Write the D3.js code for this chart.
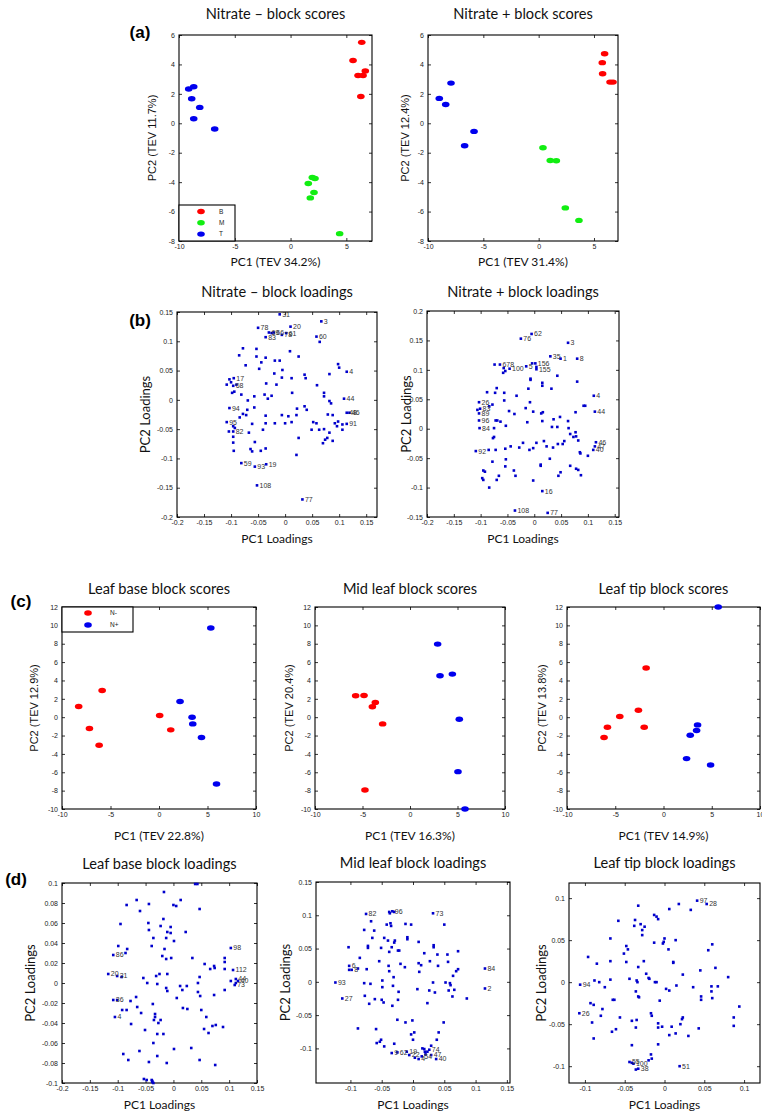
<!DOCTYPE html>
<html><head><meta charset="utf-8">
<script src="https://cdn.jsdelivr.net/npm/d3@7"></script>
<style>body{margin:0;background:#fff}svg{display:block}</style>
</head><body>
<script>
// ---------- DATA ----------
// (a) scores
const nitMinusB = [[6.38,5.5],[5.6,4.27],[6.05,3.25],[6.5,3.25],[6.7,3.55],[6.3,1.82]];
const nitMinusM = [[1.95,-3.68],[2.19,-3.75],[1.59,-4.09],[2.1,-4.7],[1.77,-5.07],[4.4,-7.5]];
const nitMinusT = [[-9.13,2.33],[-8.68,2.48],[-8.86,1.67],[-8.14,1.08],[-8.68,0.31],[-6.8,-0.39]];
const nitPlusB = [[5.96,4.73],[5.75,4.12],[5.78,3.37],[6.45,2.8],[6.72,2.8]];
const nitPlusM = [[0.39,-1.66],[1.05,-2.53],[1.6,-2.55],[2.41,-5.75],[3.64,-6.6]];
const nitPlusT = [[-7.92,2.73],[-8.98,1.69],[-8.4,1.28],[-5.84,-0.55],[-6.69,-1.53]];
const legendA = ["B","M","T"];
// (c) scores
const baseNminus = [[-8.28,1.16],[-5.86,2.91],[-7.17,-1.24],[-6.17,-3.05],[0.07,0.18],[1.21,-1.38]];
const baseNplus = [[5.34,9.71],[2.17,1.71],[3.41,0],[3.48,-0.73],[4.38,-2.22],[5.93,-7.27]];
const midNminus = [[-5.72,2.33],[-4.84,2.36],[-3.65,1.6],[-3.96,1.13],[-2.88,-0.73],[-4.74,-7.93]];
const midNplus = [[2.91,7.96],[3.16,4.51],[4.46,4.69],[5.19,-0.22],[5.05,-5.93],[5.79,-10]];
const tipNminus = [[-1.8,5.35],[-2.6,0.76],[-4.53,0.07],[-5.81,-1.09],[-2.0,-1.09],[-6.16,-2.22]];
const tipNplus = [[5.67,12.0],[3.53,-0.84],[3.43,-1.45],[2.77,-1.96],[2.39,-4.51],[4.88,-5.2]];
const legendC = ["N-","N+"];
// (b) loadings
const loadNitMinus = [
[-0.010,0.146,"31"],[0.010,0.125,"20"],[0.067,0.134,"3"],[-0.050,0.123,"78"],[-0.030,0.115,"69"],[-0.025,0.114],[-0.021,0.115,"66"],
[0.002,0.114,"61"],[-0.006,0.111,"78"],[-0.036,0.107,"83"],[0.058,0.108,"60"],[0.064,0.099],[0.114,0.048,"4"],
[-0.095,0.037,"17"],[-0.103,0.035],[-0.100,0.030],[-0.108,0.026],[-0.096,0.024,"68"],[-0.090,0.026],
[0.109,0.002,"44"],[0.114,-0.022,"48"],[0.119,-0.022,"46"],[0.114,-0.041,"91"],[-0.103,-0.014,"94"],[-0.108,-0.038,"95"],
[-0.096,-0.054,"82"],[-0.096,-0.045],[-0.093,-0.048],[-0.081,-0.108,"59"],[-0.056,-0.114,"93"],[-0.035,-0.110,"19"],
[-0.052,-0.146,"108"],[0.032,-0.170,"77"],
[-0.078,0.088],[-0.085,0.076],[-0.073,0.059],[-0.053,0.087],[-0.053,0.074],[-0.036,0.072],[-0.044,0.064],[-0.048,0.053],
[-0.019,0.067],[-0.010,0.067],[-0.005,0.051],[-0.020,0.045],[-0.035,0.028],[-0.038,0.009],[-0.032,0.002],[-0.016,0.026],
[-0.006,0.038],[0.012,0.037],[0.009,0.083],[0.025,0.074],[0.036,0.043],[0.038,0.037],[0.013,0.012],[0.022,-0.015],
[0.021,-0.026],[0.006,-0.028],[0.012,-0.038],[-0.006,-0.026],[0.025,-0.065],[0.021,-0.094],[0.059,0.025],[0.072,0.012],
[0.072,0.006],[0.082,-0.002],[0.085,-0.006],[0.079,-0.025],[0.088,-0.026],[0.058,-0.040],[0.052,-0.038],[0.072,-0.050],
[0.082,-0.056],[0.092,-0.040],[0.098,-0.037],[0.106,-0.042],[0.106,-0.051],[0.096,-0.045],[0.049,-0.051],[0.063,-0.051],
[0.078,-0.065],[0.074,-0.068],[0.070,-0.074],[0.088,-0.070],[0.098,0.061],[0.100,0.055],[0.082,0.044],[-0.081,0.009],
[-0.069,-0.001],[-0.070,-0.017],[-0.072,-0.026],[-0.067,-0.056],[-0.061,-0.041],[-0.056,-0.072],[-0.064,-0.084],
[-0.061,-0.088],[-0.045,-0.087],[-0.036,-0.083],[-0.041,-0.051],[-0.036,-0.027],[-0.036,-0.040],[-0.057,-0.013],
[-0.057,0.006],[-0.078,-0.024],[-0.084,-0.030],[-0.095,-0.087],[-0.096,-0.073],[-0.096,-0.063],[-0.104,-0.054],
[-0.098,0.012],[-0.094,0.014],[-0.019,-0.040],[0.000,-0.040],[-0.025,0.007],[0.036,-0.011],[0.040,-0.017]
];
const loadNitPlus = [
[-0.005,0.161,"62"],[-0.025,0.153,"76"],[0.063,0.146,"3"],[0.030,0.123,"35"],[0.049,0.119,"1"],[0.080,0.119,"8"],
[-0.074,0.109],[-0.064,0.109,"678"],[-0.046,0.102,"100"],[-0.015,0.106,"5"],[-0.004,0.111],[0.002,0.111,"156"],
[0.004,0.105],[0.004,0.101,"155"],[0.111,0.056,"4"],[0.113,0.029,"44"],[-0.103,0.045,"26"],[-0.106,0.032],
[-0.101,0.034,"83"],[-0.103,0.026,"89"],[-0.103,0.014,"96"],[-0.102,0.001,"84"],[-0.109,-0.038,"92"],
[0.115,-0.023,"46"],[0.113,-0.030,"47"],[0.110,-0.036,"40"],[0.015,-0.106,"16"],[-0.036,-0.139,"108"],[0.025,-0.143,"77"],
[-0.057,0.103],[-0.054,0.098],[-0.058,0.095],[-0.007,0.085],[-0.007,0.083],[0.015,0.078],[0.015,0.073],[0.043,0.090],
[0.080,0.080],[0.032,0.068],[-0.011,0.068],[-0.033,0.056],[-0.070,0.069],[-0.073,0.061],[-0.088,0.062],[-0.056,0.061],
[-0.056,0.048],[-0.078,0.041],[-0.084,0.038],[-0.047,0.030],[-0.037,0.025],[-0.016,0.035],[-0.008,0.045],[-0.002,0.029],
[0.013,0.026],[0.016,0.028],[0.036,0.016],[0.043,0.003],[0.033,0.003],[0.015,0.013],[-0.013,0.011],[-0.053,0.005],
[-0.072,0.014],[-0.069,0.014],[-0.063,0.012],[-0.075,0.001],[-0.075,-0.014],[-0.077,-0.016],[-0.085,-0.036],
[-0.072,-0.036],[-0.054,-0.034],[-0.044,-0.030],[-0.028,-0.032],[-0.021,-0.024],[-0.009,-0.036],[-0.002,-0.033],
[0.004,-0.024],[0.018,-0.021],[0.023,-0.030],[0.035,-0.032],[0.044,-0.026],[0.053,-0.026],[0.056,-0.021],[0.064,0.001],
[0.067,-0.009],[0.073,-0.014],[0.078,-0.013],[0.082,-0.020],[0.077,-0.006],[0.085,-0.040],[0.086,-0.042],[0.100,-0.046],
[0.077,0.028],[0.092,0.039],[0.095,0.039],[-0.078,-0.056],[-0.053,-0.052],[-0.095,-0.071],[-0.092,-0.073],[-0.097,-0.084],
[-0.095,-0.087],[-0.084,-0.100],[-0.070,-0.087],[-0.066,-0.080],[-0.054,-0.064],[-0.038,-0.071],[-0.035,-0.080],
[-0.002,-0.088],[0.012,-0.063],[0.012,-0.061],[0.029,-0.051],[0.049,-0.074],[0.045,-0.080],[0.067,-0.063],[0.082,-0.070],
[0.087,-0.079],[0.078,-0.068],[0.048,0.020],[0.063,0.013]
];
// (d) loadings
const loadBase = [
[0.103,0.035,"98"],[-0.108,0.028,"86"],[0.107,0.013,"112"],[-0.117,0.009,"20"],[-0.101,0.007,"31"],[-0.093,0.006],
[0.112,0.004,"44"],[0.116,0.002,"40"],[0.112,0.000],[0.110,-0.002,"73"],[0.103,0.002],[-0.108,-0.017,"36"],[-0.101,-0.017],
[-0.105,-0.034,"4"],
[0.039,0.099],[0.043,0.099],[-0.017,0.091],[-0.066,0.083],[-0.084,0.078],[-0.044,0.079],[0.013,0.083],[0.000,0.078],
[0.005,0.077],[-0.060,0.072],[0.047,0.074],[-0.018,0.064],[-0.095,0.059],[-0.045,0.060],[-0.044,0.053],[-0.023,0.057],
[-0.005,0.056],[-0.011,0.051],[-0.005,0.050],[0.022,0.051],[-0.036,0.045],[-0.013,0.045],[0.001,0.042],[-0.039,0.037],
[-0.099,0.037],[-0.083,0.034],[-0.086,0.030],[-0.016,0.034],[-0.020,0.027],[-0.013,0.024],[-0.004,0.025],[0.034,0.025],
[0.056,0.019],[0.066,0.014],[0.073,0.017],[0.074,0.015],[0.092,0.025],[0.092,0.021],[0.092,0.014],[-0.025,0.009],
[-0.011,0.009],[-0.031,0.007],[-0.054,0.005],[-0.047,0.000],[-0.029,-0.001],[0.047,0.006],[0.044,0.000],[0.012,-0.003],
[0.024,-0.003],[-0.013,-0.005],[-0.011,-0.008],[0.016,-0.007],[0.006,-0.015],[0.044,-0.009],[0.048,-0.013],[0.073,-0.012],
[0.092,-0.007],[-0.067,-0.014],[-0.077,-0.018],[-0.065,-0.024],[-0.058,-0.030],[-0.037,-0.021],[-0.084,-0.027],
[-0.092,-0.027],[-0.076,-0.041],[-0.051,-0.047],[-0.033,-0.031],[-0.033,-0.034],[-0.035,-0.037],[-0.023,-0.037],
[-0.027,-0.040],[-0.029,-0.051],[-0.018,-0.051],[0.017,-0.025],[0.025,-0.026],[0.050,-0.027],[0.059,-0.034],
[0.055,-0.046],[0.063,-0.050],[0.070,-0.043],[0.076,-0.042],[0.089,-0.044],[-0.036,-0.060],[-0.061,-0.068],
[-0.090,-0.071],[-0.081,-0.077],[-0.044,-0.079],[-0.029,-0.073],[-0.012,-0.080],[0.001,-0.066],[0.032,-0.065],
[0.047,-0.077],[0.075,-0.082],[-0.053,-0.096],[-0.048,-0.097],[-0.039,-0.097],[-0.038,-0.098],[-0.036,-0.100],[-0.038,-0.099]
];
const loadMid = [
[-0.075,0.102,"82"],[-0.038,0.105],[-0.033,0.106,"96"],[-0.030,0.105],[-0.037,0.103],[0.032,0.103,"73"],
[0.115,0.020,"84"],[0.115,-0.010,"2"],[-0.102,0.024,"6"],[-0.102,0.018],[-0.098,0.018,"8"],[-0.124,-0.001,"93"],
[-0.113,-0.025,"27"],[-0.034,-0.107,"9"],[-0.025,-0.106,"62"],[-0.010,-0.105,"19"],[-0.006,-0.110,"22"],
[0.003,-0.114],[0.009,-0.116,"4"],[0.014,-0.112,"54"],[0.020,-0.109],[0.023,-0.105],[0.026,-0.102,"74"],[0.019,-0.105],
[0.018,-0.101],[0.029,-0.110,"47"],[0.037,-0.116,"40"],
[-0.067,0.091],[-0.036,0.088],[-0.042,0.086],[-0.035,0.084],[-0.012,0.087],[-0.003,0.086],[0.050,0.086],[-0.078,0.078],
[-0.062,0.077],[-0.065,0.066],[-0.046,0.066],[-0.040,0.062],[-0.029,0.062],[-0.030,0.059],[-0.009,0.067],[-0.009,0.064],
[0.009,0.060],[-0.072,0.054],[-0.072,0.051],[-0.103,0.052],[-0.051,0.051],[-0.034,0.052],[-0.024,0.047],[-0.022,0.047],
[-0.038,0.045],[0.033,0.055],[0.033,0.052],[0.018,0.043],[0.039,0.041],[0.055,0.041],[0.072,0.046],[0.027,0.031],
[0.056,0.030],[-0.085,0.036],[-0.054,0.031],[-0.039,0.024],[-0.020,0.027],[-0.013,0.022],[0.009,0.028],[0.013,0.025],
[0.040,0.024],[0.010,0.015],[-0.074,0.019],[-0.088,0.020],[-0.038,0.016],[-0.031,0.007],[-0.049,0.002],[-0.078,-0.002],
[-0.068,-0.003],[-0.032,-0.006],[-0.049,-0.008],[-0.023,-0.015],[0.064,0.009],[0.072,0.019],[0.069,0.016],[0.052,-0.001],
[0.059,-0.002],[0.060,-0.005],[0.066,-0.012],[0.032,-0.001],[0.026,-0.013],[0.035,-0.016],[0.007,-0.011],[0.057,-0.013],
[0.063,-0.022],[0.086,-0.025],[-0.077,-0.021],[-0.070,-0.033],[-0.061,-0.026],[-0.050,-0.027],[-0.047,-0.031],
[-0.033,-0.036],[-0.024,-0.027],[0.023,-0.032],[-0.088,-0.070],[-0.059,-0.071],[-0.051,-0.087],[-0.053,-0.090],
[-0.058,-0.092],[-0.046,-0.097],[-0.025,-0.057],[-0.012,-0.061],[-0.001,-0.058],[-0.003,-0.079],[0.002,-0.076],
[0.000,-0.087],[-0.030,-0.093],[0.015,-0.100],[0.029,-0.096],[0.038,-0.087],[0.041,-0.076],[0.049,-0.061]
];
const loadTip = [
[0.041,0.097,"97"],[0.053,0.093,"28"],[-0.106,-0.003,"94"],[-0.107,-0.037,"26"],[-0.044,-0.095,"55"],[-0.041,-0.096],
[-0.039,-0.097,"100"],[-0.033,-0.103,"38"],[-0.036,-0.104],[0.019,-0.100,"51"],
[-0.033,0.091],[0.018,0.093],[0.006,0.087],[0.033,0.086],[-0.013,0.080],[-0.010,0.078],[-0.008,0.075],[-0.058,0.073],
[-0.037,0.074],[-0.038,0.067],[-0.030,0.069],[-0.025,0.066],[-0.028,0.062],[-0.028,0.056],[-0.068,0.052],[-0.048,0.043],
[-0.046,0.039],[-0.051,0.034],[-0.013,0.047],[-0.001,0.048],[0.000,0.052],[-0.002,0.046],[0.005,0.039],[0.014,0.050],
[0.011,0.024],[0.011,0.023],[0.023,0.009],[0.060,0.045],[0.055,0.038],[0.064,0.017],[0.045,0.014],[-0.096,0.030],
[-0.085,0.022],[-0.068,0.025],[-0.048,0.024],[-0.026,0.025],[-0.033,0.018],[-0.023,0.010],[-0.020,0.005],[-0.019,0.004],
[-0.010,0.000],[-0.012,0.000],[-0.035,0.002],[-0.034,0.000],[-0.044,0.004],[-0.068,0.003],[-0.082,0.000],[-0.088,0.002],
[-0.075,-0.006],[-0.065,-0.021],[-0.063,-0.021],[-0.078,-0.032],[-0.080,-0.040],[-0.093,-0.025],[-0.089,-0.027],
[-0.091,-0.048],[-0.089,-0.067],[-0.056,-0.042],[-0.066,-0.059],[-0.061,-0.056],[-0.036,-0.011],[-0.033,-0.017],
[-0.032,-0.018],[-0.041,-0.046],[-0.036,-0.054],[-0.035,-0.045],[-0.017,-0.037],[-0.016,-0.040],[-0.006,-0.022],
[-0.008,-0.049],[-0.008,-0.054],[-0.003,-0.053],[-0.008,-0.074],[0.002,-0.008],[0.006,-0.010],[0.015,-0.004],
[0.036,-0.006],[0.022,-0.044],[0.023,-0.042],[0.020,-0.050],[0.009,-0.053],[0.006,-0.063],[0.014,-0.061],[0.030,-0.064],
[0.043,-0.055],[0.046,-0.017],[0.046,-0.021],[0.059,-0.005],[0.059,-0.011],[0.060,-0.019],[0.067,-0.005],[0.080,0.006],
[0.094,-0.029],[0.087,-0.042],[0.087,-0.052],[-0.041,-0.075],[-0.017,-0.086],[-0.016,-0.091],[-0.020,-0.093]
];
// tick values
const ticksA_x = [-10,-5,0,5];
const ticksA_y = [-8,-6,-4,-2,0,2,4,6];
const ticksB_x = [-0.2,-0.15,-0.1,-0.05,0,0.05,0.1,0.15];
const ticksBL_y = [-0.2,-0.15,-0.1,-0.05,0,0.05,0.1,0.15];
const ticksBR_y = [-0.15,-0.1,-0.05,0,0.05,0.1,0.15,0.2];
const ticksC_x = [-10,-5,0,5,10];
const ticksC_y = [-10,-8,-6,-4,-2,0,2,4,6,8,10,12];
const ticksDL_x = [-0.2,-0.15,-0.1,-0.05,0,0.05,0.1,0.15];
const ticksDL_y = [-0.1,-0.08,-0.06,-0.04,-0.02,0,0.02,0.04,0.06,0.08,0.1];
const ticksDM_x = [-0.1,-0.05,0,0.05,0.1,0.15];
const ticksDM_y = [-0.1,-0.05,0,0.05,0.1,0.15];
const ticksDR_x = [-0.1,-0.05,0,0.05,0.1];
const ticksDR_y = [-0.1,-0.05,0,0.05,0.1];

// ---------- DRAW ----------
const W = 762, H = 1115;
const SANS = "'Liberation Sans', Arial, sans-serif";
const CAL = "Lato, 'Open Sans', sans-serif";
const RED = "#ff0000", GREEN = "#11ee11", BLUE = "#0000ee", LBLUE = "#0000cc";
const svg = d3.select("body").append("svg").attr("width", W).attr("height", H);
svg.append("rect").attr("width", W).attr("height", H).attr("fill", "#fff");

function txt(x, y, s, o = {}) {
  const t = svg.append("text").attr("x", x).attr("y", y).text(s)
    .attr("font-family", o.font || CAL).attr("font-size", o.size || 13)
    .attr("fill", o.fill || "#111").attr("text-anchor", o.anchor || "middle")
    .attr("dominant-baseline", "middle");
  if (o.weight) t.attr("font-weight", o.weight);
  if (o.rot) t.attr("transform", `rotate(-90,${x},${y})`);
  return t;
}

function panel(p) {
  const g = svg.append("g");
  const x = d3.scaleLinear().domain(p.xd).range([p.l, p.r]);
  const y = d3.scaleLinear().domain(p.yd).range([p.b, p.t]);
  const fmt = d => String(d);
  const ax = (gen, tr, labels) => {
    const a = g.append("g").attr("transform", tr).call(gen);
    a.select(".domain").remove();
    a.selectAll("line").attr("stroke", "#000").attr("stroke-width", 0.8);
    if (labels) a.selectAll("text").attr("font-size", 7).attr("font-family", SANS).attr("fill", "#222");
    else a.selectAll("text").remove();
  };
  ax(d3.axisBottom(x).tickValues(p.xt).tickSize(-3).tickPadding(3).tickFormat(fmt), `translate(0,${p.b})`, true);
  ax(d3.axisTop(x).tickValues(p.xt).tickSize(-3).tickFormat(fmt), `translate(0,${p.t})`, false);
  ax(d3.axisLeft(y).tickValues(p.yt).tickSize(-3).tickPadding(4).tickFormat(fmt), `translate(${p.l},0)`, true);
  ax(d3.axisRight(y).tickValues(p.yt).tickSize(-3).tickFormat(fmt), `translate(${p.r},0)`, false);
  g.append("rect").attr("x", p.l).attr("y", p.t).attr("width", p.r - p.l).attr("height", p.b - p.t)
    .attr("fill", "none").attr("stroke", "#000").attr("stroke-width", 1.1);
  if (p.series) {
    p.series.forEach(s => {
      g.selectAll(null).data(s.data).enter().append("ellipse")
        .attr("cx", d => x(d[0])).attr("cy", d => y(d[1])).attr("rx", 3.8).attr("ry", 2.7)
        .attr("fill", s.color);
    });
  }
  if (p.load) {
    g.selectAll(null).data(p.load).enter().append("rect")
      .attr("x", d => x(d[0]) - 1.3).attr("y", d => y(d[1]) - 1.3).attr("width", 2.6).attr("height", 2.6)
      .attr("fill", LBLUE);
    g.selectAll(null).data(p.load.filter(d => d[2])).enter().append("text")
      .attr("x", d => x(d[0]) + 2.5).attr("y", d => y(d[1])).attr("dy", "0.35em")
      .attr("font-family", SANS).attr("font-size", 7).attr("fill", "#333").text(d => d[2]);
  }
  if (p.legend) {
    const L = p.legend;
    g.append("rect").attr("x", L.x).attr("y", L.y).attr("width", L.w).attr("height", L.h)
      .attr("fill", "#fff").attr("stroke", "#000").attr("stroke-width", 1.1);
    L.items.forEach((it, i) => {
      const yy = L.y + L.y0 + i * L.dy;
      g.append("ellipse").attr("cx", L.mx).attr("cy", yy).attr("rx", 3.8).attr("ry", 2.7).attr("fill", L.colors[i]);
      g.append("text").attr("x", L.tx).attr("y", yy).attr("dy", "0.35em").attr("font-family", SANS)
        .attr("font-size", 6.5).attr("fill", "#222").text(it);
    });
  }
  if (p.title) txt((p.l + p.r) / 2, p.titleY, p.title, {size: 14.6});
  if (p.xlab) txt((p.l + p.r) / 2, p.xlabY, p.xlab, {size: p.xlabSize || 12});
  if (p.ylab) txt(p.ylabX, (p.t + p.b) / 2, p.ylab, {size: p.ylabSize || 11, font: p.ylabFont || SANS, rot: true});
}

// (a)
panel({l:179, r:372, t:35, b:241, xd:[-10,7.3], yd:[-8,6], xt:ticksA_x, yt:ticksA_y,
  series:[{data:nitMinusB,color:RED},{data:nitMinusM,color:GREEN},{data:nitMinusT,color:BLUE}],
  legend:{x:179, y:205, w:56, h:36, items:legendA, colors:[RED,GREEN,BLUE], y0:6.5, dy:11.3, mx:201, tx:219},
  title:"Nitrate \u2013 block scores", titleY:15, xlab:"PC1 (TEV 34.2%)", xlabY:263,
  ylab:"PC2 (TEV 11.7%)", ylabX:153});
panel({l:428, r:618, t:35, b:241, xd:[-10,7.17], yd:[-8,6], xt:ticksA_x, yt:ticksA_y,
  series:[{data:nitPlusB,color:RED},{data:nitPlusM,color:GREEN},{data:nitPlusT,color:BLUE}],
  title:"Nitrate + block scores", titleY:15, xlab:"PC1 (TEV 31.4%)", xlabY:263,
  ylab:"PC2 (TEV 12.4%)", ylabX:406});
// (b)
panel({l:177, r:377, t:312, b:517, xd:[-0.2,0.17], yd:[-0.2,0.15], xt:ticksB_x, yt:ticksBL_y, load:loadNitMinus,
  title:"Nitrate \u2013 block loadings", titleY:293, xlab:"PC1 Loadings", xlabY:540,
  ylab:"PC2 Loadings", ylabX:147, ylabFont:CAL, ylabSize:13});
panel({l:427, r:619, t:311, b:517, xd:[-0.2,0.158], yd:[-0.15,0.2], xt:ticksB_x, yt:ticksBR_y, load:loadNitPlus,
  title:"Nitrate + block loadings", titleY:293, xlab:"PC1 Loadings", xlabY:540,
  ylab:"PC2 Loadings", ylabX:408, ylabFont:CAL, ylabSize:13});
// (c)
panel({l:62, r:256, t:607, b:809, xd:[-10,10], yd:[-10,12], xt:ticksC_x, yt:ticksC_y,
  series:[{data:baseNminus,color:RED},{data:baseNplus,color:BLUE}],
  legend:{x:62, y:607, w:71, h:25, items:legendC, colors:[RED,BLUE], y0:6, dy:12, mx:88, tx:110},
  title:"Leaf base block scores", titleY:590, xlab:"PC1 (TEV 22.8%)", xlabY:837,
  ylab:"PC2 (TEV 12.9%)", ylabX:35});
panel({l:315, r:505, t:607, b:809, xd:[-10,10], yd:[-10,12], xt:ticksC_x, yt:ticksC_y,
  series:[{data:midNminus,color:RED},{data:midNplus,color:BLUE}],
  title:"Mid leaf block scores", titleY:590, xlab:"PC1 (TEV 16.3%)", xlabY:837,
  ylab:"PC2 (TEV 20.4%)", ylabX:290});
panel({l:567, r:760, t:607, b:809, xd:[-10,10], yd:[-10,12], xt:ticksC_x, yt:ticksC_y,
  series:[{data:tipNminus,color:RED},{data:tipNplus,color:BLUE}],
  title:"Leaf tip block scores", titleY:590, xlab:"PC1 (TEV 14.9%)", xlabY:837,
  ylab:"PC2 (TEV 13.8%)", ylabX:543});
// (d)
panel({l:62, r:257, t:883, b:1083, xd:[-0.2,0.15], yd:[-0.1,0.1], xt:ticksDL_x, yt:ticksDL_y, load:loadBase,
  title:"Leaf base block loadings", titleY:865, xlab:"PC1 Loadings", xlabY:1106,
  ylab:"PC2 Loadings", ylabX:32, ylabFont:CAL, ylabSize:13});
panel({l:316, r:510, t:882, b:1083, xd:[-0.155,0.155], yd:[-0.152,0.15], xt:ticksDM_x, yt:ticksDM_y, load:loadMid,
  title:"Mid leaf block loadings", titleY:864, xlab:"PC1 Loadings", xlabY:1106,
  ylab:"PC2 Loadings", ylabX:287, ylabFont:CAL, ylabSize:13});
panel({l:569, r:760, t:883, b:1083, xd:[-0.12,0.12], yd:[-0.12,0.118], xt:ticksDR_x, yt:ticksDR_y, load:loadTip,
  title:"Leaf tip block loadings", titleY:864, xlab:"PC1 Loadings", xlabY:1106,
  ylab:"PC2 Loadings", ylabX:543, ylabFont:CAL, ylabSize:13});

// panel letters
txt(140, 34, "(a)", {font: SANS, size: 17, weight: "bold", fill: "#000"});
txt(140, 322, "(b)", {font: SANS, size: 17, weight: "bold", fill: "#000"});
txt(21, 603, "(c)", {font: SANS, size: 17, weight: "bold", fill: "#000"});
txt(16, 881, "(d)", {font: SANS, size: 17, weight: "bold", fill: "#000"});
</script>
</body></html>
